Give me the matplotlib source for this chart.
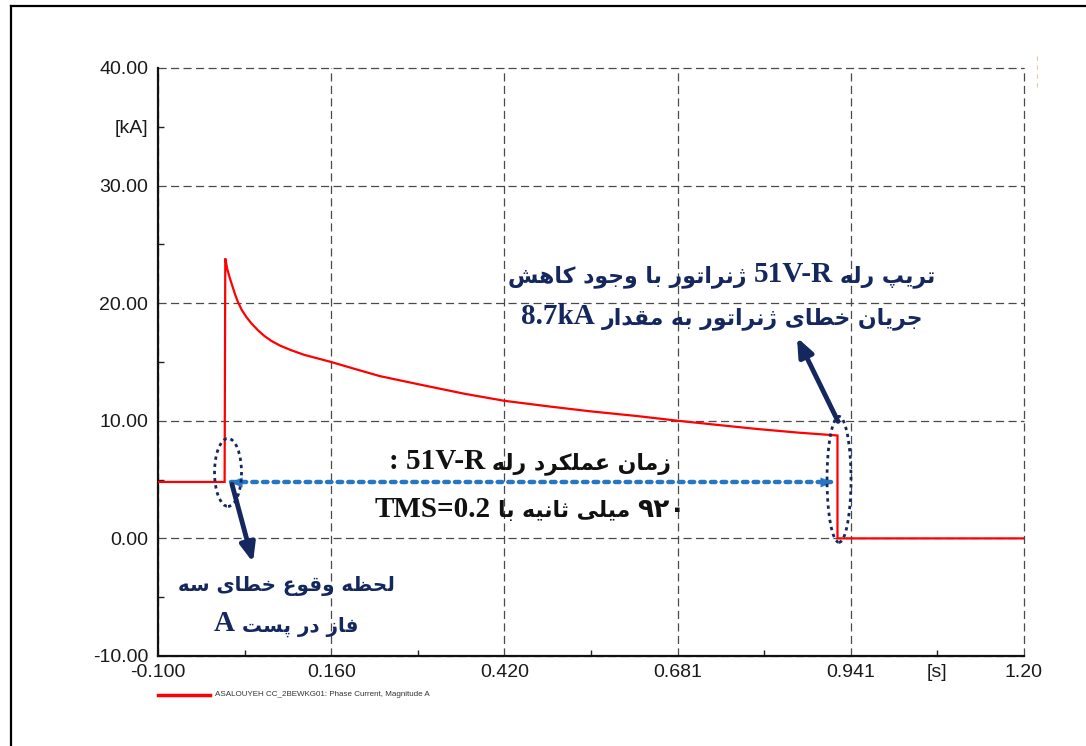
import matplotlib
matplotlib.use("Agg")
import matplotlib.pyplot as plt
from matplotlib.patches import Ellipse
from matplotlib.lines import Line2D
from matplotlib.ticker import FixedLocator, FixedFormatter
from matplotlib.transforms import offset_copy

# ---------------- data ----------------
t_pre = [-0.100, 0.000]
i_pre = [4.8, 4.8]
t_fault = [0.000, 0.001, 0.004, 0.008, 0.012, 0.016, 0.020, 0.026, 0.033, 0.040,
           0.050, 0.060, 0.070, 0.083, 0.100, 0.120, 0.140, 0.160, 0.190, 0.233,
           0.300, 0.360, 0.420, 0.490, 0.550, 0.620, 0.681, 0.740, 0.800, 0.860, 0.920]
i_fault = [4.8, 23.8, 22.9, 22.1, 21.4, 20.7, 20.1, 19.4, 18.8, 18.3,
           17.7, 17.2, 16.8, 16.4, 16.0, 15.6, 15.3, 15.0, 14.5, 13.8,
           13.0, 12.3, 11.7, 11.2, 10.8, 10.4, 10.0, 9.65, 9.3, 9.0, 8.75]
t_post = [0.920, 0.924, 1.200]
i_post = [0.0, 0.0, 0.0]

x_ticks = [-0.100, 0.160, 0.420, 0.680, 0.940, 1.200]
x_tick_labels = ["-0.100", "0.160", "0.420", "0.681", "0.941", "1.20"]
y_ticks = [-10, 0, 10, 20, 30, 40]
y_tick_labels = ["-10.00", "0.00", "10.00", "20.00", "30.00", "40.00"]
x_unit = "[s]"
y_unit = "[kA]"
legend_label = "ASALOUYEH CC_2BEWKG01: Phase Current, Magnitude A"

note_trip = ["تریپ رله 51V-R ژنراتور  با وجود کاهش", "جریان خطای ژنراتور به مقدار 8.7kA"]
note_time = ["زمان عملکرد رله 51V-R :", "۹۲۰ میلی ثانیه با TMS=0.2"]
note_fault = ["لحظه وقوع خطای سه", "فاز در پست A"]

# ------------- minimal Arabic/Persian shaping -------------
FORMS = {
    'ا': ('\uFE8D', '\uFE8E', None, None),
    'ب': ('\uFE8F', '\uFE90', '\uFE91', '\uFE92'),
    'ت': ('\uFE95', '\uFE96', '\uFE97', '\uFE98'),
    'ث': ('\uFE99', '\uFE9A', '\uFE9B', '\uFE9C'),
    'ج': ('\uFE9D', '\uFE9E', '\uFE9F', '\uFEA0'),
    'ح': ('\uFEA1', '\uFEA2', '\uFEA3', '\uFEA4'),
    'خ': ('\uFEA5', '\uFEA6', '\uFEA7', '\uFEA8'),
    'د': ('\uFEA9', '\uFEAA', None, None),
    'ر': ('\uFEAD', '\uFEAE', None, None),
    'ز': ('\uFEAF', '\uFEB0', None, None),
    'س': ('\uFEB1', '\uFEB2', '\uFEB3', '\uFEB4'),
    'ش': ('\uFEB5', '\uFEB6', '\uFEB7', '\uFEB8'),
    'ط': ('\uFEC1', '\uFEC2', '\uFEC3', '\uFEC4'),
    'ظ': ('\uFEC5', '\uFEC6', '\uFEC7', '\uFEC8'),
    'ع': ('\uFEC9', '\uFECA', '\uFECB', '\uFECC'),
    'ف': ('\uFED1', '\uFED2', '\uFED3', '\uFED4'),
    'ق': ('\uFED5', '\uFED6', '\uFED7', '\uFED8'),
    'ل': ('\uFEDD', '\uFEDE', '\uFEDF', '\uFEE0'),
    'م': ('\uFEE1', '\uFEE2', '\uFEE3', '\uFEE4'),
    'ن': ('\uFEE5', '\uFEE6', '\uFEE7', '\uFEE8'),
    'ه': ('\uFEE9', '\uFEEA', '\uFEEB', '\uFEEC'),
    'و': ('\uFEED', '\uFEEE', None, None),
    'ی': ('\uFBFC', '\uFBFD', '\uFBFE', '\uFBFF'),
    'ک': ('\uFB8E', '\uFB8F', '\uFB90', '\uFB91'),
    'پ': ('\uFB56', '\uFB57', '\uFB58', '\uFB59'),
    'ژ': ('\uFB8A', '\uFB8B', None, None),
}


def kind(w):
    if any(c in FORMS for c in w):
        return 'fa'
    if any('\u06F0' <= c <= '\u06F9' for c in w):
        return 'num'
    return 'la'


def shape_word(w):
    out = []
    n = len(w)
    for i, ch in enumerate(w):
        f = FORMS.get(ch)
        if f is None:
            out.append(ch)
            continue
        prev_j = i > 0 and w[i - 1] in FORMS and FORMS[w[i - 1]][2] is not None
        next_j = i < n - 1 and w[i + 1] in FORMS and f[2] is not None
        if prev_j and next_j:
            g = f[3]
        elif prev_j:
            g = f[1]
        elif next_j:
            g = f[2]
        else:
            g = f[0]
        out.append(g)
    return ''.join(reversed(out))


# ---------------- figure ----------------
fig = plt.figure(figsize=(10.86, 7.46), dpi=100)
ax = fig.add_axes([158 / 1086, 90 / 746, 866 / 1086, 588 / 746])

red = '#ff0000'
ax.plot(t_pre + t_fault + t_post, i_pre + i_fault + i_post, color=red, lw=1.6,
        solid_joinstyle='miter', zorder=3)

ax.set_xlim(-0.1, 1.2)
ax.set_ylim(-10, 40)

ax.xaxis.set_major_locator(FixedLocator(x_ticks))
ax.xaxis.set_major_formatter(FixedFormatter(x_tick_labels))
ax.yaxis.set_major_locator(FixedLocator(y_ticks))
ax.yaxis.set_major_formatter(FixedFormatter(y_tick_labels))
x_minor = [(a + b) / 2 for a, b in zip(x_ticks[:-1], x_ticks[1:])]
y_minor = [(a + b) / 2 for a, b in zip(y_ticks[:-1], y_ticks[1:])]
ax.xaxis.set_minor_locator(FixedLocator(x_minor))
ax.xaxis.set_minor_formatter(FixedFormatter([''] * (len(x_minor) - 1) + [x_unit]))
ax.yaxis.set_minor_locator(FixedLocator(y_minor))
ax.yaxis.set_minor_formatter(FixedFormatter([''] * (len(y_minor) - 1) + [y_unit]))

ax.tick_params(which='major', length=0)
ax.tick_params(which='minor', direction='in', length=4, width=1, color='#222222')
ax.tick_params(axis='x', which='both', pad=6)
ax.tick_params(axis='y', which='both', pad=7)
for lab in ax.get_xticklabels(which='both') + ax.get_yticklabels(which='both'):
    lab.set_fontfamily('Liberation Sans')
    lab.set_fontsize(14)
    lab.set_color('#1a1a1a')

ax.grid(True, which='major', color='#4a4a4a', lw=0.9, linestyle=(0, (6.5, 3.5)))
for gl in ax.get_xgridlines() + ax.get_ygridlines():
    gl.set_clip_on(False)
for side in ('top', 'right'):
    ax.spines[side].set_visible(False)
for side in ('left', 'bottom'):
    ax.spines[side].set_linewidth(1.6)
    ax.spines[side].set_color('#111111')
    ax.spines[side].set_zorder(2.6)
ax.set_axisbelow(True)

# ---------------- annotations ----------------
navy = '#14285f'
blue = '#2676c4'

# dotted double arrow (operating time)
ax.plot([0.010, 0.910], [4.76, 4.76], color=blue, lw=3.2, linestyle=(0, (1.0, 1.4)),
        dash_capstyle='round', zorder=4)
ax.annotate('', xy=(0.0036, 4.76), xytext=(0.03, 4.76),
            arrowprops=dict(arrowstyle='-|>,head_length=0.9,head_width=0.35', color=blue, lw=0.1), zorder=5)
ax.annotate('', xy=(0.9178, 4.76), xytext=(0.89, 4.76),
            arrowprops=dict(arrowstyle='-|>,head_length=0.9,head_width=0.35', color=blue, lw=0.1), zorder=5)

# dotted ellipses
ax.add_patch(Ellipse((0.0051, 5.61), 0.0405, 5.78, fill=False, ec=navy, lw=2,
                     linestyle=(0, (1.2, 1.4)), zorder=5))
ax.add_patch(Ellipse((0.9223, 5.02), 0.036, 10.71, fill=False, ec=navy, lw=2,
                     linestyle=(0, (1.2, 1.4)), zorder=5))

# navy arrows
ax.annotate('', xy=(0.0426, -2.04), xytext=(0.0111, 4.59),
            arrowprops=dict(arrowstyle='-|>,head_length=1.1,head_width=0.45', color=navy, lw=3.5,
                            shrinkA=0, shrinkB=0), zorder=6)
ax.annotate('', xy=(0.8592, 17.09), xytext=(0.9208, 9.95),
            arrowprops=dict(arrowstyle='-|>,head_length=1.1,head_width=0.45', color=navy, lw=3.5,
                            shrinkA=0, shrinkB=0), zorder=6)

# mixed Persian / Latin text lines (right-to-left), segments measured and centred
renderer = fig.canvas.get_renderer()


def put_line(xc, yb, s, color, fa_size, la_size=21, num_size=19):
    words = [w for w in s.split(' ') if w != '']
    segs = []
    for w in reversed(words):
        k = kind(w)
        txt = shape_word(w) if k == 'fa' else w
        if segs and segs[-1][1] == k:
            segs[-1][0] += ' ' + txt
        else:
            segs.append([txt, k])
    texts = []
    for txt, k in segs:
        if k == 'fa':
            size, fam = fa_size, 'DejaVu Sans'
        elif k == 'num':
            size, fam = num_size, 'DejaVu Sans'
        else:
            size, fam = la_size, 'Liberation Serif'
        t = ax.text(xc, yb, txt, ha='left', va='baseline', fontsize=size,
                    fontweight='bold', family=fam, color=color, zorder=7)
        texts.append(t)
    widths = [t.get_window_extent(renderer).width for t in texts]
    gap = 0.25 * la_size * fig.dpi / 72.0
    total = sum(widths) + gap * (len(texts) - 1)
    x = -total / 2.0
    for t, w in zip(texts, widths):
        t.set_transform(offset_copy(ax.transData, fig=fig, x=x, y=0, units='dots'))
        x += w + gap


put_line(0.7466, 21.77, note_trip[0], navy, 15.8)
put_line(0.7466, 18.20, note_trip[1], navy, 15.8)
put_line(0.4584, 5.87, note_time[0], '#111111', 15.8)
put_line(0.4584, 1.79, note_time[1], '#111111', 15.8)
put_line(0.0921, -4.51, note_fault[0], navy, 14.3)
put_line(0.0921, -7.91, note_fault[1], navy, 14.3)

# legend (manual, below axes)
fig.add_artist(Line2D([158 / 1086, 210 / 1086], [1 - 695 / 746] * 2, color=red, lw=2.5))
fig.text(215 / 1086, 1 - 695 / 746, legend_label, fontsize=5.8, family='Liberation Sans',
         color='#333333', va='center', ha='left')

# page border (top and left) and small mark at top right
fig.add_artist(Line2D([11 / 1086, 1.0], [1 - 6 / 746] * 2, color='black', lw=1.6))
fig.add_artist(Line2D([11 / 1086] * 2, [0.0, 1 - 6 / 746], color='black', lw=1.6))
fig.add_artist(Line2D([1037 / 1086] * 2, [1 - 56 / 746, 1 - 88 / 746], color='#e2c9a0',
                      lw=0.8, linestyle=(0, (4, 4))))

fig.savefig('out.png', dpi=100)
